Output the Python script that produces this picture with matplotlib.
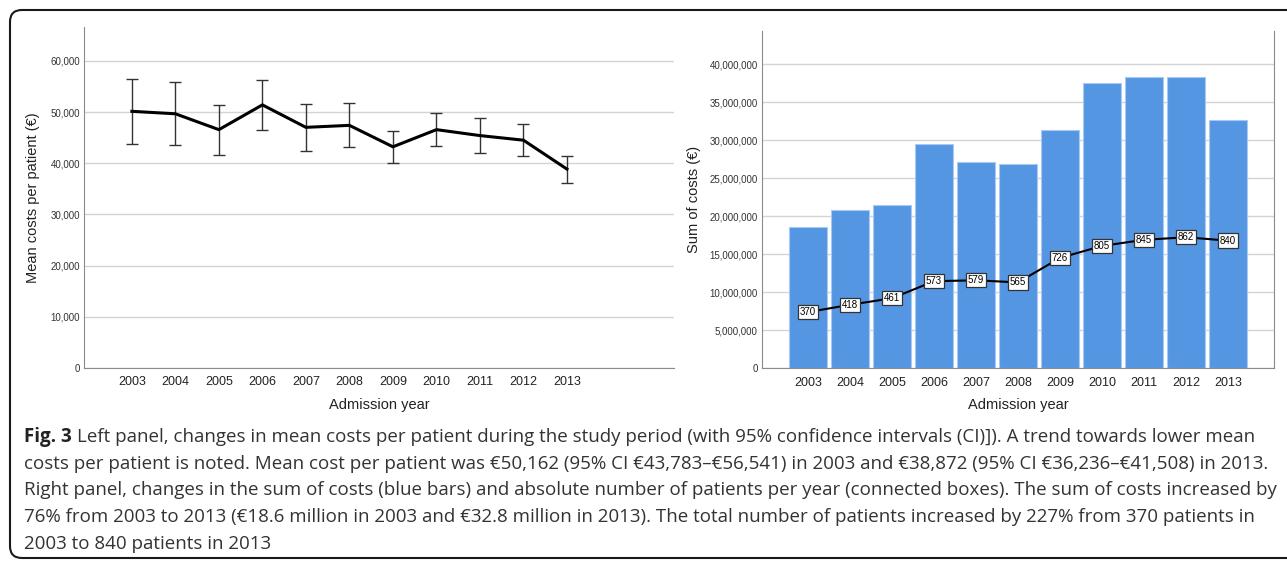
import matplotlib
matplotlib.use("Agg")
import matplotlib.pyplot as plt
from matplotlib.patches import FancyBboxPatch
from matplotlib.transforms import IdentityTransform
from matplotlib.ticker import FuncFormatter
import numpy as np

years = [2003, 2004, 2005, 2006, 2007, 2008, 2009, 2010, 2011, 2012, 2013]
mean_cost = [50162, 49680, 46580, 51420, 47030, 47420, 43230, 46580, 45420, 44520, 38872]
ci_low = [43783, 43550, 41680, 46520, 42390, 43100, 40060, 43420, 42000, 41480, 36236]
ci_high = [56541, 55935, 51420, 56320, 51610, 51740, 46320, 49740, 48840, 47680, 41508]
sum_costs = [18.59e6, 20.83e6, 21.49e6, 29.47e6, 27.19e6, 26.84e6, 31.36e6,
             37.50e6, 38.37e6, 38.37e6, 32.67e6]
patients = [370, 418, 461, 573, 579, 565, 726, 805, 845, 862, 840]

caption = [
    "Left panel, changes in mean costs per patient during the study period (with 95% confidence intervals (CI)]). A trend towards lower mean",
    "costs per patient is noted. Mean cost per patient was \u20ac50,162 (95% CI \u20ac43,783\u2013\u20ac56,541) in 2003 and \u20ac38,872 (95% CI \u20ac36,236\u2013\u20ac41,508) in 2013.",
    "Right panel, changes in the sum of costs (blue bars) and absolute number of patients per year (connected boxes). The sum of costs increased by",
    "76% from 2003 to 2013 (\u20ac18.6 million in 2003 and \u20ac32.8 million in 2013). The total number of patients increased by 227% from 370 patients in",
    "2003 to 840 patients in 2013",
]

plt.rcParams['font.family'] = ['Liberation Sans', 'DejaVu Sans']

W, H = 1287, 561
fig = plt.figure(figsize=(W / 100, H / 100), dpi=100)

grid_c = '#d4d4d4'
spine_c = '#8a8a8a'
text_c = '#222222'
x = np.arange(len(years))
fmt = FuncFormatter(lambda v, p: f"{int(v):,}")


def style(ax):
    ax.yaxis.grid(True, color=grid_c, lw=1)
    ax.set_axisbelow(True)
    ax.tick_params(axis='y', length=0, labelsize=7, labelcolor='#333333', pad=3)
    ax.tick_params(axis='x', length=0, labelsize=9, labelcolor=text_c, pad=6)
    ax.spines['top'].set_visible(False)
    for s in ('left', 'bottom', 'right'):
        ax.spines[s].set_color(spine_c)
    ax.set_xticks(x)
    ax.set_xticklabels([str(y) for y in years])
    ax.yaxis.set_major_formatter(fmt)
    ax.set_xlabel('Admission year', fontsize=10.5, color=text_c, labelpad=7)


# left panel
ax1 = fig.add_axes([84 / W, 1 - 368 / H, 590 / W, 341 / H])
style(ax1)
ax1.spines['right'].set_visible(False)
yerr = [np.array(mean_cost) - np.array(ci_low), np.array(ci_high) - np.array(mean_cost)]
ax1.errorbar(x, mean_cost, yerr=yerr, fmt='none', ecolor='#333333', elinewidth=1,
             capsize=4, capthick=1)
ax1.plot(x, mean_cost, color='black', lw=2.2)
ax1.set_xlim(-1.1, 12.46)
ax1.set_ylim(0, 66640)
ax1.set_yticks(range(0, 60001, 10000))
ax1.set_ylabel('Mean costs per patient (\u20ac)', fontsize=10.5, color=text_c, labelpad=7)

# right panel
ax2 = fig.add_axes([762 / W, 1 - 368.3 / H, 512 / W, 337.3 / H])
style(ax2)
ax2.bar(x, sum_costs, width=0.9, color='#5596e3', edgecolor='#a9c9f2', lw=0.8)
ax2.set_xlim(-1.1, 11.1)
top = 44.38e6
ax2.set_ylim(0, top)
ax2.set_yticks(np.arange(0, 40e6 + 1, 5e6))
ax2.set_ylabel('Sum of costs (\u20ac)', fontsize=10.5, color=text_c, labelpad=6)

ax3 = ax2.twinx()
ax3.set_ylim(0, top / 20000)
ax3.axis('off')
ax3.plot(x, patients, color='black', lw=1.5)
for xi, p in zip(x, patients):
    ax3.text(xi, p, str(p), ha='center', va='center', fontsize=7, color='black',
             bbox=dict(boxstyle='square,pad=0.22', fc='white', ec='#333333', lw=0.9))

# caption
r = fig.canvas.get_renderer()
cap_font = ['Open Sans', 'DejaVu Sans']
cap_size = 13.5
y0 = 437
for i, line in enumerate(caption):
    yy = 1 - (y0 + i * 26.7) / H
    if i == 0:
        t = fig.text(24 / W, yy, 'Fig. 3', fontsize=cap_size, fontweight='bold', family=cap_font,
                     color='#222222', va='center', ha='left')
        bb = t.get_window_extent(renderer=r)
        fig.text((bb.x1 + 5) / W, yy, line, fontsize=cap_size, family=cap_font,
                 color='#333333', va='center', ha='left')
    else:
        fig.text(24 / W, yy, line, fontsize=cap_size, family=cap_font,
                 color='#333333', va='center', ha='left')

# rounded frame
frame = FancyBboxPatch((10, 3), 1300, H - 13, boxstyle='round,pad=0,rounding_size=12',
                       transform=IdentityTransform(), fill=False, ec='#1a1a1a', lw=1.5)
fig.patches.append(frame)

fig.savefig('out.png', dpi=100)
